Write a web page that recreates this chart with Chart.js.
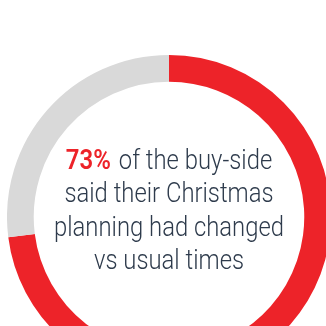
<!DOCTYPE html>
<html>
<head>
<meta charset="utf-8">
<script src="https://cdn.jsdelivr.net/npm/chart.js@4/dist/chart.umd.min.js"></script>
<style>
  html, body { margin: 0; padding: 0; background: #fff; overflow: hidden; width: 326px; height: 326px; }
  #wrap { position: absolute; left: 7px; top: 55px; width: 324px; height: 324px; }
</style>
</head>
<body>
<div id="wrap"><canvas id="chart"></canvas></div>
<script>
const labels = ["Changed", "Not changed"];
const values = [73, 27];
const colors = ["#ed2329", "#d9d9d9"];
const headline = "73%";
const textLines = ["of the buy-side", "said their Christmas", "planning had changed", "vs usual times"];

// centre text drawn after the ring
const centerText = {
  id: "centerText",
  afterDraw(chart) {
    const ctx = chart.ctx;
    const meta = chart.getDatasetMeta(0).data[0];
    const cx = meta.x, cy = meta.y;
    const size = 28.5;
    const regular = "300 " + size + "px Roboto";
    const bold = "600 " + size + "px Roboto";
    ctx.save();
    ctx.textBaseline = "alphabetic";
    ctx.textAlign = "left";
    // squeeze to look like the condensed face in the picture
    ctx.font = regular;
    const sx = 230 / ctx.measureText(textLines[2]).width;
    ctx.font = bold;
    const hx = 45 / ctx.measureText(headline).width;
    const gap = 8;
    const lineH = 33.3;
    const firstBase = cy - 48;
    textLines.forEach((t, i) => {
      const y = firstBase + i * lineH;
      ctx.font = regular;
      const tw = ctx.measureText(t).width * sx;
      const w = i === 0 ? 45 + gap + tw : tw;
      let x = cx - w / 2;
      if (i === 0) {
        ctx.save();
        ctx.translate(x, y);
        ctx.scale(hx, 1);
        ctx.font = bold;
        ctx.fillStyle = colors[0];
        ctx.fillText(headline, 0, 0);
        ctx.restore();
        x += 45 + gap;
      }
      ctx.save();
      ctx.translate(x, y);
      ctx.scale(sx, 1);
      ctx.font = regular;
      ctx.fillStyle = "#2e3b4c";
      ctx.fillText(t, 0, 0);
      ctx.restore();
    });
    ctx.restore();
  }
};

new Chart(document.getElementById("chart"), {
  type: "doughnut",
  data: {
    labels: labels,
    datasets: [{
      data: values,
      backgroundColor: colors,
      borderWidth: 0,
    }],
  },
  options: {
    responsive: true,
    maintainAspectRatio: false,
    animation: false,
    cutout: "83.5%",
    layout: { padding: 0 },
    plugins: {
      legend: { display: false },
      tooltip: { enabled: false },
    },
  },
  plugins: [centerText],
});
</script>
</body>
</html>
